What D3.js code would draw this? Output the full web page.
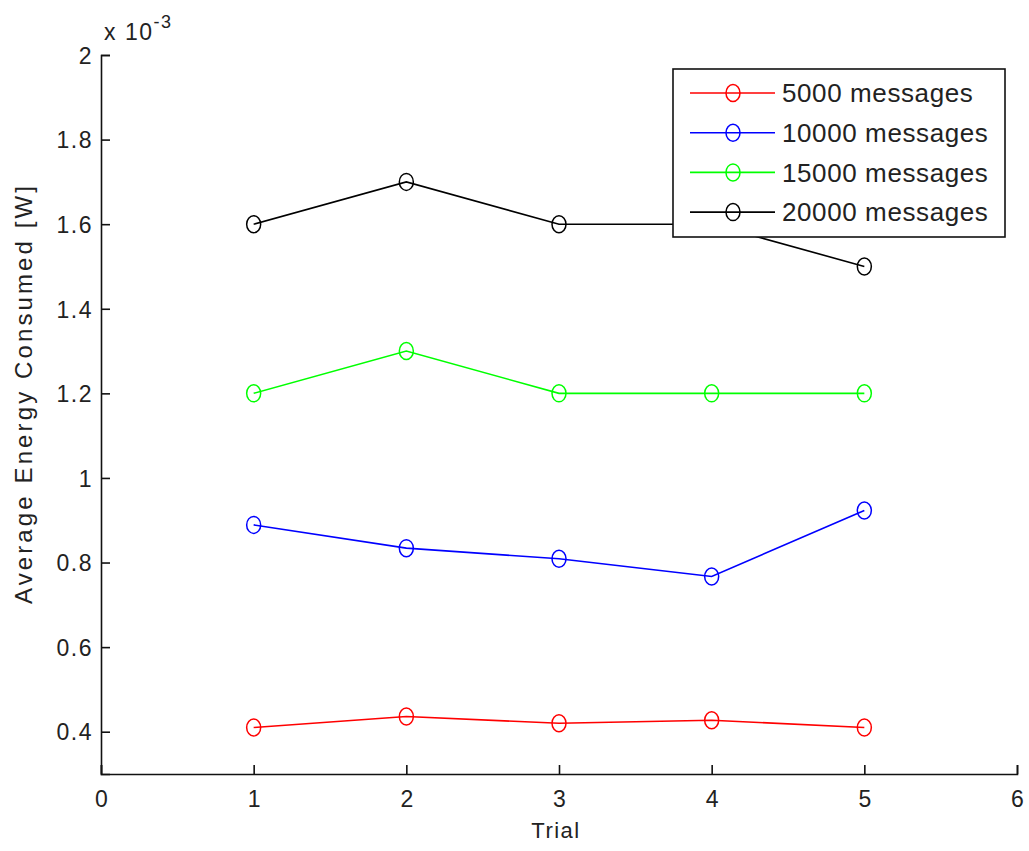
<!DOCTYPE html>
<html>
<head>
<meta charset="utf-8">
<script src="https://cdn.jsdelivr.net/npm/d3@7"></script>
<style>
  html, body { margin: 0; padding: 0; background: #fff; }
  svg { display: block; }
  text { font-family: "Liberation Sans", Arial, sans-serif; fill: #222; }
</style>
</head>
<body>
<svg id="chart" width="1029" height="851"></svg>
<script>
const trials = [1, 2, 3, 4, 5];
const seriesNames = ["5000 messages", "10000 messages", "15000 messages", "20000 messages"];
const seriesColors = ["#ff0000", "#0000ff", "#00ff00", "#000000"];
const values5000 = [0.410, 0.436, 0.420, 0.427, 0.410];
const values10000 = [0.889, 0.834, 0.809, 0.767, 0.923];
const values15000 = [1.20, 1.30, 1.20, 1.20, 1.20];
const values20000 = [1.60, 1.70, 1.60, 1.60, 1.50];
const xTicks = [0, 1, 2, 3, 4, 5, 6];
const yTicks = [0.4, 0.6, 0.8, 1.0, 1.2, 1.4, 1.6, 1.8, 2.0];
const xLabel = "Trial";
const yLabel = "Average Energy Consumed [W]";

const allSeries = [values5000, values10000, values15000, values20000];

const svg = d3.select("#chart");
const pLeft = 101, pRight = 1017, pTop = 55, pBottom = 774;

const x = d3.scaleLinear().domain([0, 6]).range([pLeft, pRight]);
const y = d3.scaleLinear().domain([0.3, 2.0]).range([pBottom, pTop]);

const tickFont = 23;

// axes
const xAxis = d3.axisBottom(x).tickValues(xTicks).tickSize(-9).tickPadding(16).tickFormat(d3.format("d"));
const gx = svg.append("g").attr("transform", `translate(0,${pBottom})`).call(xAxis);
const yAxis = d3.axisLeft(y).tickValues(yTicks).tickSize(-9).tickPadding(8).tickFormat(d => d3.format("~g")(d));
const gy = svg.append("g").attr("transform", `translate(${pLeft},0)`).call(yAxis);

[gx, gy].forEach(g => {
  g.select(".domain").attr("stroke", "#111").attr("stroke-width", 1.6);
  g.selectAll(".tick line").attr("stroke", "#111").attr("stroke-width", 1.6);
  g.selectAll(".tick text")
    .attr("font-size", tickFont)
    .attr("font-family", "'Liberation Sans', Arial, sans-serif")
    .attr("fill", "#222")
    .style("letter-spacing", "1.5px");
});
gx.selectAll(".tick text").attr("dy", "0.75em").attr("dx", 0.75);
gy.selectAll(".tick text").attr("dy", "0.36em");

// lines and markers
const line = d3.line().x((d, i) => x(trials[i])).y(d => y(d));
allSeries.forEach((vals, si) => {
  svg.append("path")
    .datum(vals)
    .attr("d", line)
    .attr("fill", "none")
    .attr("stroke", seriesColors[si])
    .attr("stroke-width", 1.6);
  svg.selectAll(null)
    .data(vals)
    .enter().append("ellipse")
    .attr("cx", (d, i) => x(trials[i]))
    .attr("cy", d => y(d))
    .attr("rx", 7)
    .attr("ry", 8.5)
    .attr("fill", "none")
    .attr("stroke", seriesColors[si])
    .attr("stroke-width", 1.5);
});

// labels
svg.append("text")
  .attr("x", 556)
  .attr("y", 838)
  .attr("text-anchor", "middle")
  .attr("font-size", 22)
  .style("letter-spacing", "1.5px")
  .text(xLabel);

svg.append("text")
  .attr("transform", `translate(32,${395}) rotate(-90)`)
  .attr("text-anchor", "middle")
  .attr("font-size", 24)
  .attr("textLength", 418)
  .attr("lengthAdjust", "spacing")
  .text(yLabel);

// exponent label
const expo = svg.append("text").attr("x", 104).attr("y", 40).attr("font-size", 23).style("letter-spacing", "1.5px");
expo.append("tspan").text("x 10");
expo.append("tspan").attr("dy", -12).attr("font-size", 18).text("-3");

// legend
const lg = svg.append("g");
lg.append("rect")
  .attr("x", 673).attr("y", 69).attr("width", 332).attr("height", 168)
  .attr("fill", "#fff").attr("stroke", "#111").attr("stroke-width", 1.6);
seriesNames.forEach((name, i) => {
  const ry = 93 + i * 39.7;
  lg.append("line").attr("x1", 690).attr("x2", 775).attr("y1", ry).attr("y2", ry)
    .attr("stroke", seriesColors[i]).attr("stroke-width", 1.6);
  lg.append("ellipse").attr("cx", 733).attr("cy", ry).attr("rx", 7).attr("ry", 8.5)
    .attr("fill", "none").attr("stroke", seriesColors[i]).attr("stroke-width", 1.5);
  lg.append("text").attr("x", 782).attr("y", ry).attr("dy", "0.36em")
    .attr("font-size", 26).style("letter-spacing", "0.6px")
    .text(name);
});
</script>
</body>
</html>
